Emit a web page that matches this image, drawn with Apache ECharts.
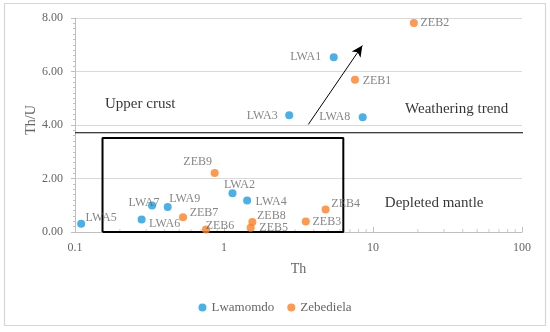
<!DOCTYPE html>
<html>
<head>
<meta charset="utf-8">
<script src="https://cdn.jsdelivr.net/npm/echarts@6/dist/echarts.min.js"></script>
<style>html,body{margin:0;padding:0;background:#fff}#c{width:550px;height:332px}</style>
</head>
<body>
<div id="c"></div>
<script>
var FONT = 'Liberation Serif';
var xTickLabels = ['0.1', '1', '10', '100'];
var yTickLabels = ['0.00', '2.00', '4.00', '6.00', '8.00'];

var lwaNames = ['LWA1', 'LWA2', 'LWA3', 'LWA4', 'LWA5', 'LWA6', 'LWA7', 'LWA8', 'LWA9'];
var lwaTh    = [5.45, 1.14, 2.74, 1.43, 0.110, 0.280, 0.329, 8.53, 0.419];
var lwaThU   = [6.53, 1.45, 4.36, 1.18, 0.31, 0.47, 0.99, 4.29, 0.93];

var zebNames = ['ZEB1', 'ZEB2', 'ZEB3', 'ZEB4', 'ZEB5', 'ZEB6', 'ZEB7', 'ZEB8', 'ZEB9'];
var zebTh    = [7.57, 18.8, 3.54, 4.81, 1.51, 0.757, 0.531, 1.55, 0.866];
var zebThU   = [5.69, 7.81, 0.39, 0.84, 0.16, 0.09, 0.55, 0.37, 2.21];

// label offsets (text centre relative to point centre, px)
var labelOffsets = {
  LWA1: [-28, 0], LWA2: [7, -8], LWA3: [-27, 0], LWA4: [24, 1], LWA5: [20, -6],
  LWA6: [23, 4], LWA7: [-8, -3], LWA8: [-28, 0], LWA9: [17, -8],
  ZEB1: [22, 1], ZEB2: [21, 0], ZEB3: [21, 0], ZEB4: [20, -6], ZEB5: [23, 0],
  ZEB6: [14, -4], ZEB7: [21, -4], ZEB8: [19, -6], ZEB9: [-17, -11]
};

var boundaryThU = 3.71;
var boundaryTh = [0.1, 116.7];
var boxTh = [0.153, 6.32];
var boxThU = [0, 3.51];
var arrowFrom = [3.68, 4.02];
var arrowTo = [8.48, 6.97];

var regionNames = ['Upper crust', 'Weathering trend', 'Depleted mantle'];
var regionTh = [0.159, 16.4, 12.0];
var regionThU = [4.79, 4.6, 1.08];

var xMinorTicks = [0.2, 0.3, 0.4, 0.5, 0.6, 0.7, 0.8, 0.9, 2, 3, 4, 5, 6, 7, 8, 9, 20, 30, 40, 50, 60, 70, 80, 90];

function pts(names, xs, ys) {
  return names.map(function (n, i) {
    return {
      name: n, value: [xs[i], ys[i]],
      label: { offset: labelOffsets[n] }
    };
  });
}

var labelStyle = {
  show: true, position: 'inside', align: 'center', verticalAlign: 'middle',
  formatter: '{b}', color: '#666', fontFamily: FONT, fontSize: 12
};

var chart = echarts.init(document.getElementById('c'), null, { renderer: 'canvas' });
chart.setOption({
  animation: false,
  backgroundColor: '#fff',
  textStyle: { fontFamily: FONT },
  graphic: [{
    type: 'rect', shape: { x: 4.5, y: 3.5, width: 541, height: 322 },
    style: { fill: 'none', stroke: '#d6d6d6', lineWidth: 1.2 }, z: -10
  }],
  grid: { left: 75, right: 28, top: 18, bottom: 100, containLabel: false },
  legend: {
    data: ['Lwamomdo', 'Zebediela'], bottom: 13, left: 'center',
    icon: 'circle', itemWidth: 8, itemHeight: 8, itemGap: 13,
    textStyle: { color: '#666', fontFamily: FONT, fontSize: 13 }
  },
  xAxis: {
    type: 'log', logBase: 10, min: 0.1, max: 100,
    name: 'Th', nameLocation: 'middle', nameGap: 30, nameMoveOverlap: false,
    nameTextStyle: { color: '#666', fontFamily: FONT, fontSize: 14 },
    axisLine: { lineStyle: { color: '#bfbfbf', width: 1 } },
    axisTick: { show: true, inside: true, length: 5, lineStyle: { color: '#bfbfbf' } },
    minorTick: { show: false },
    splitLine: { show: false },
    axisLabel: {
      color: '#666', fontFamily: FONT, fontSize: 12, margin: 10,
      formatter: function (v, i) { return xTickLabels[i]; }
    }
  },
  yAxis: {
    type: 'value', min: 0, max: 8, interval: 2,
    name: 'Th/U', nameLocation: 'middle', nameGap: 37, nameRotate: 90, nameMoveOverlap: false,
    nameTextStyle: { color: '#666', fontFamily: FONT, fontSize: 14, padding: [0, 0, 0, 10] },
    axisLine: { show: true, lineStyle: { color: '#bfbfbf', width: 1 } },
    axisTick: { show: true, inside: false, length: 4, lineStyle: { color: '#bfbfbf' } },
    minorTick: { show: true, splitNumber: 10, length: 2, lineStyle: { color: '#bfbfbf' } },
    splitLine: { show: true, lineStyle: { color: '#d9d9d9', width: 1 } },
    axisLabel: {
      color: '#666', fontFamily: FONT, fontSize: 12, margin: 12,
      formatter: function (v, i) { return yTickLabels[i]; }
    }
  },
  series: [
    {
      name: 'xminor', type: 'scatter', silent: true, clip: false, z: 1,
      symbol: 'rect', symbolSize: [1, 3], symbolOffset: [0, -1.5],
      itemStyle: { color: '#bfbfbf' },
      data: xMinorTicks.map(function (v) { return [v, 0]; })
    },
    {
      name: 'boundary', type: 'line', clip: false, symbol: 'none', silent: true, z: 3,
      lineStyle: { color: '#000', width: 1 },
      data: [[boundaryTh[0], boundaryThU], [boundaryTh[1], boundaryThU]]
    },
    {
      name: 'box', type: 'line', clip: false, symbol: 'none', silent: true, z: 3,
      lineStyle: { color: '#000', width: 2 },
      data: [[boxTh[0], boxThU[0]], [boxTh[0], boxThU[1]], [boxTh[1], boxThU[1]],
             [boxTh[1], boxThU[0]], [boxTh[0], boxThU[0]]],
      markLine: {
        silent: true, symbol: ['none', 'arrow'], symbolSize: [8, 11],
        lineStyle: { color: '#000', width: 1, type: 'solid' },
        label: { show: false },
        data: [[{ coord: arrowFrom }, { coord: arrowTo }]]
      }
    },
    {
      name: 'regions', type: 'scatter', silent: true, symbolSize: 0, clip: false, z: 4,
      label: { show: true, position: 'right', distance: 0, formatter: '{b}',
        color: '#000', fontFamily: FONT, fontSize: 15 },
      data: regionNames.map(function (n, i) { return { name: n, value: [regionTh[i], regionThU[i]] }; })
    },
    {
      name: 'Lwamomdo', type: 'scatter', symbol: 'circle', symbolSize: 8, z: 5,
      itemStyle: { color: '#1f9bde' }, label: labelStyle,
      data: pts(lwaNames, lwaTh, lwaThU)
    },
    {
      name: 'Zebediela', type: 'scatter', symbol: 'circle', symbolSize: 8, z: 5,
      itemStyle: { color: '#fb7f28' }, label: labelStyle,
      data: pts(zebNames, zebTh, zebThU)
    }
  ]
});
</script>
</body>
</html>
